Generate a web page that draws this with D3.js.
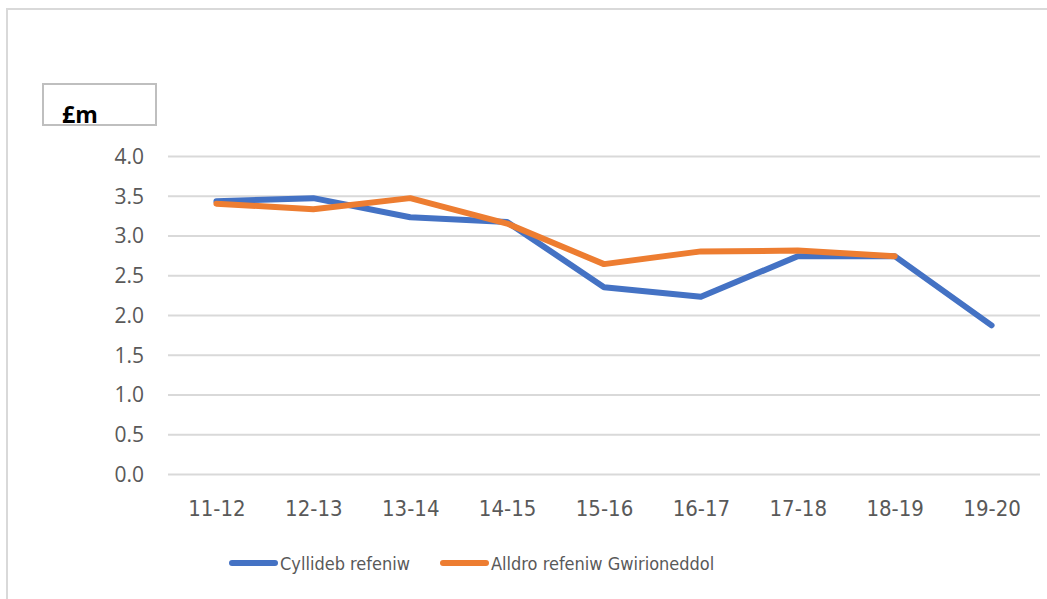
<!DOCTYPE html>
<html>
<head>
<meta charset="utf-8">
<script src="https://cdn.jsdelivr.net/npm/d3@7"></script>
<style>
  body { margin: 0; background: #fff; }
  svg { display: block; }
  .ytick text { font-family: "Open Sans", sans-serif; font-size: 21px; fill: #595959; }
  .xtick text { font-family: "Liberation Sans Narrow", "DejaVu Sans Condensed", sans-serif; font-size: 22px; fill: #595959; }
  .legend text { font-family: "Liberation Sans Narrow", "DejaVu Sans Condensed", sans-serif; font-size: 18px; fill: #595959; }
</style>
</head>
<body>
<div id="chart"></div>
<script>
let years = ['11-12', '12-13', '13-14', '14-15', '15-16', '16-17', '17-18', '18-19', '19-20'];
let budget = [3.43, 3.47, 3.23, 3.17, 2.35, 2.23, 2.74, 2.74, 1.87];
let outturn = [3.40, 3.33, 3.47, 3.15, 2.64, 2.80, 2.81, 2.74];
let yTicks = [0, 0.5, 1, 1.5, 2, 2.5, 3, 3.5, 4];
let seriesNames = ['Cyllideb refeniw', 'Alldro refeniw Gwirioneddol'];
let colours = ['#4472c4', '#ed7d31'];

let width = 1047, height = 599;
let svg = d3.select('#chart').append('svg')
    .attr('width', width)
    .attr('height', height);

// outer frame, runs off the right and bottom edges
svg.append('rect')
    .attr('x', 7).attr('y', 9)
    .attr('width', 1060).attr('height', 620)
    .attr('fill', 'none')
    .attr('stroke', '#d9d9d9')
    .attr('stroke-width', 2);

let xScale = d3.scalePoint()
    .domain(years)
    .range([168, 1040])
    .padding(0.5);

let yScale = d3.scaleLinear()
    .domain([0, 4])
    .range([474, 156]);

// y axis with gridlines
let yAxis = d3.axisLeft(yScale)
    .tickValues(yTicks)
    .tickFormat(d3.format('.1f'))
    .tickSize(-(1040 - 168))
    .tickPadding(24);

let yg = svg.append('g')
    .attr('class', 'ytick')
    .attr('transform', 'translate(168,0)')
    .call(yAxis);
yg.select('.domain').remove();
yg.selectAll('line').attr('stroke', '#d9d9d9').attr('stroke-width', 2);
yg.selectAll('text').attr('dy', '0.35em');

// x axis labels
let xAxis = d3.axisBottom(xScale)
    .tickSize(0)
    .tickPadding(26);

let xg = svg.append('g')
    .attr('class', 'xtick')
    .attr('transform', 'translate(0,474)')
    .call(xAxis);
xg.select('.domain').remove();

// lines
let line = d3.line()
    .x((d, i) => xScale(years[i]))
    .y(d => yScale(d));

[budget, outturn].forEach((values, i) => {
    svg.append('path')
        .datum(values)
        .attr('d', line)
        .attr('fill', 'none')
        .attr('stroke', colours[i])
        .attr('stroke-width', 6)
        .attr('stroke-linejoin', 'round')
        .attr('stroke-linecap', 'round');
});

// legend
let legendX = [232, 443];
let lg = svg.append('g').attr('class', 'legend');
seriesNames.forEach((name, i) => {
    lg.append('line')
        .attr('x1', legendX[i]).attr('x2', legendX[i] + 43)
        .attr('y1', 563).attr('y2', 563)
        .attr('stroke', colours[i])
        .attr('stroke-width', 6)
        .attr('stroke-linecap', 'round');
    lg.append('text')
        .attr('x', legendX[i] + 48)
        .attr('y', 570)
        .text(name);
});

// unit label box
svg.append('rect')
    .attr('x', 43).attr('y', 84)
    .attr('width', 113).attr('height', 41)
    .attr('fill', 'none')
    .attr('stroke', '#bfbfbf')
    .attr('stroke-width', 2);

svg.append('text')
    .attr('x', 62).attr('y', 123)
    .attr('font-family', '"Open Sans", sans-serif')
    .attr('font-weight', 'bold')
    .attr('font-size', 23)
    .attr('fill', '#000')
    .text('£m');
</script>
</body>
</html>
